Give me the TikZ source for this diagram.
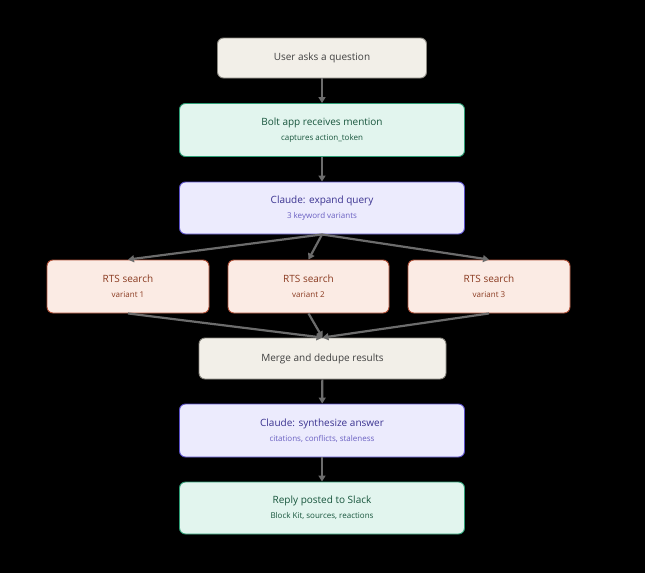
\documentclass[tikz,border=0pt]{standalone}
\usepackage{fontspec}
\setmainfont{Open Sans}
\usetikzlibrary{arrows.meta}
\definecolor{grayfill}{HTML}{F2EFE8}
\definecolor{grayline}{HTML}{8C8A82}
\definecolor{greenfill}{HTML}{E2F5EE}
\definecolor{greenline}{HTML}{2E9E76}
\definecolor{greentext}{HTML}{17553C}
\definecolor{purpfill}{HTML}{ECEBFD}
\definecolor{purpline}{HTML}{5A50C8}
\definecolor{purptext}{HTML}{3A3290}
\definecolor{purpsub}{HTML}{6A60C2}
\definecolor{redfill}{HTML}{FBEBE4}
\definecolor{redline}{HTML}{B4533A}
\definecolor{redtext}{HTML}{8A3A20}
\newcommand{\subtext}{\fontsize{8}{15}\selectfont}
\tikzset{
  box/.style = {rounded corners=6pt, line width=0.9pt, align=center,
                inner sep=0pt, font=\fontsize{10}{15}\selectfont},
  graybox/.style  = {box, fill=grayfill, draw=grayline, text=black!75},
  greenbox/.style = {box, fill=greenfill, draw=greenline, text=greentext},
  purpbox/.style  = {box, fill=purpfill, draw=purpline, text=purptext},
  redbox/.style   = {box, fill=redfill, draw=redline, text=redtext},
  link/.style = {draw=gray!85!black, line width=2.2pt,
                 -{Triangle[length=6pt,width=7pt]}}
}

\begin{document}
\begin{tikzpicture}[x=1pt,y=-1pt]
	\fill[black] (0,0) rectangle (645,573);

	% Boxes
	\node[graybox, minimum width=209pt, minimum height=40pt] (ask) at (322,58) {User asks a question};
	\node[greenbox, minimum width=285pt, minimum height=53pt] (bolt) at (322,130)
	  {Bolt app receives mention\\{\subtext captures action\_token}};
	\node[purpbox, minimum width=285pt, minimum height=52pt] (expand) at (322,208)
	  {Claude: expand query\\{\subtext\color{purpsub} 3 keyword variants}};
	\node[redbox, minimum width=162pt, minimum height=53pt] (rts1) at (128,286.5)
	  {RTS search\\{\subtext variant 1}};
	\node[redbox, minimum width=161pt, minimum height=53pt] (rts2) at (308.5,286.5)
	  {RTS search\\{\subtext variant 2}};
	\node[redbox, minimum width=162pt, minimum height=53pt] (rts3) at (489,286.5)
	  {RTS search\\{\subtext variant 3}};
	\node[graybox, minimum width=247pt, minimum height=41pt] (merge) at (322.5,358.5) {Merge and dedupe results};
	\node[purpbox, minimum width=285pt, minimum height=53pt] (synth) at (322,430.5)
	  {Claude: synthesize answer\\{\subtext\color{purpsub} citations, conflicts, staleness}};
	\node[greenbox, minimum width=285pt, minimum height=52pt] (reply) at (322,508)
	  {Reply posted to Slack\\{\subtext Block Kit, sources, reactions}};

	% Links
	\draw[link] (ask) -- (bolt);
	\draw[link] (bolt) -- (expand);
	\draw[link] (expand.south) -- (rts1.north);
	\draw[link] (expand.south) -- (rts2.north);
	\draw[link] (expand.south) -- (rts3.north);
	\draw[link] (rts1.south) -- (merge.north);
	\draw[link] (rts2.south) -- (merge.north);
	\draw[link] (rts3.south) -- (merge.north);
	\draw[link] (merge) -- (synth);
	\draw[link] (synth) -- (reply);
\end{tikzpicture}
\end{document}
